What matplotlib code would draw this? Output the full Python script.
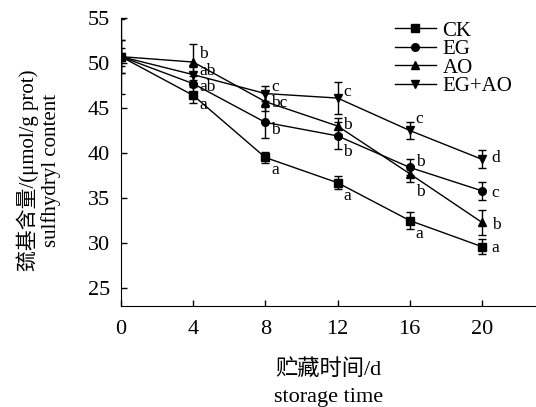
import numpy as np
import matplotlib.pyplot as plt
from matplotlib.lines import Line2D

plt.rcParams['font.family'] = ['Liberation Serif', 'Noto Sans CJK SC']

# storage days
days = [0, 4, 8, 12, 16, 20]

# sulfhydryl content (umol/g prot)
ck = [50.7, 46.4, 39.5, 36.7, 32.5, 29.6]
eg = [50.7, 47.7, 43.4, 41.9, 38.4, 35.8]
ao = [50.7, 50.1, 45.7, 43.0, 37.7, 32.3]
egao = [50.7, 48.7, 46.6, 46.1, 42.5, 39.3]

ck_err = [1.8, 0.9, 0.6, 0.7, 0.9, 0.8]
eg_err = [1.8, 0.9, 1.7, 1.5, 0.9, 1.0]
ao_err = [4.2, 2.0, 1.0, 0.9, 0.9, 1.4]
egao_err = [1.0, 0.9, 0.8, 1.8, 0.9, 1.0]

# significance letters
ck_sig = ['', 'a', 'a', 'a', 'a', 'a']
eg_sig = ['', 'ab', 'b', 'b', 'b', 'c']
ao_sig = ['', 'b', 'bc', 'b', 'b', 'b']
egao_sig = ['', 'ab', 'c', 'c', 'c', 'd']

# vertical shift of letters (pixels, down is positive)
ck_dy = [0, 10, 13, 13, 13, 1]
eg_dy = [0, 3, 8, 16, -5, 2]
ao_dy = [0, -8, 1, -1, 18, 3]
egao_dy = [0, -4, -7, -6, -11, -1]

series = [
    ("CK", ck, ck_err, ck_sig, ck_dy, "s"),
    ("EG", eg, eg_err, eg_sig, eg_dy, "o"),
    ("AO", ao, ao_err, ao_sig, ao_dy, "^"),
    ("EG+AO", egao, egao_err, egao_sig, egao_dy, "v"),
]

fig = plt.figure(figsize=(5.36, 4.07), dpi=100)
ax = fig.add_axes([0.2257, 0.248, 0.7743, 0.708])

px = 0.72  # points per pixel at dpi 100
handles = []
for name, vals, err, sig, dys, mk in series:
    ax.errorbar(days, vals, yerr=err, color="black", marker=mk, markersize=5.5,
                linewidth=1, elinewidth=1, capsize=3, capthick=1)
    handles.append(Line2D([], [], color="black", marker=mk, markersize=5.5,
                          linewidth=1, label=name))
    for d, v, s, dy in zip(days, vals, sig, dys):
        if s:
            dx = 10 if d == 20 else 6
            ax.annotate(s, (d, v), xytext=(dx * px, -dy * px),
                        textcoords="offset points",
                        fontsize=12.5, ha="left", va="center")

ax.set_xlim(0, 23)
ax.set_ylim(23, 55)
ax.set_xticks(days)
ax.set_yticks([25, 30, 35, 40, 45, 50, 55])
ax.tick_params(direction="in", labelsize=16, length=4, width=1)
ax.tick_params(axis="x", pad=10)
ax.tick_params(axis="y", pad=8)
ax.spines["top"].set_visible(False)
ax.spines["right"].set_visible(False)

ax.set_xlabel("贮藏时间/d\nstorage time", fontsize=16, linespacing=1.55)
ax.xaxis.set_label_coords(0.5, -0.185)
ax.set_ylabel("巯基含量/(μmol/g prot)\nsulfhydryl content", fontsize=15,
              linespacing=1.15)
ax.yaxis.set_label_coords(-0.145, 0.47)

ax.legend(handles=handles, loc="upper left", bbox_to_anchor=(0.624, 1.04),
          frameon=False, fontsize=15, handlelength=2.0, handletextpad=0.3,
          labelspacing=-0.05, borderpad=0.2)

fig.savefig("out.png", dpi=100)
